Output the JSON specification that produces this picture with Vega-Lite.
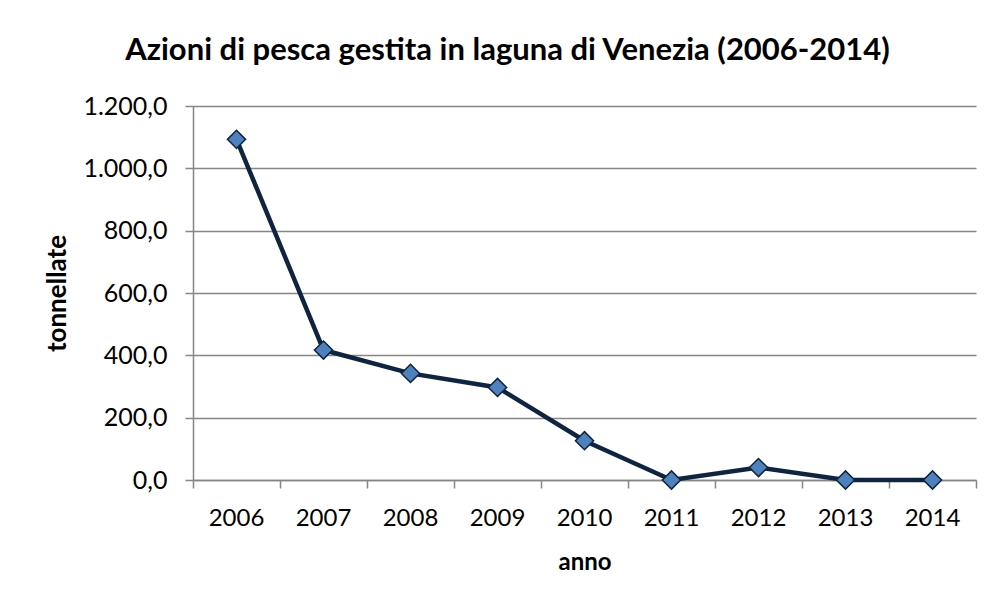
{
  "$schema": "https://vega.github.io/schema/vega-lite/v6.json",
  "width": 783,
  "height": 374,
  "autosize": {"type": "none"},
  "padding": {"left": 193, "top": 106, "right": 19, "bottom": 123},
  "background": "white",
  "config": {
    "locale": {"number": {"decimal": ",", "thousands": ".", "grouping": [3], "currency": ["€", ""]}},
    "view": {"stroke": null},
    "font": "Lato"
  },
  "title": {
    "text": "Azioni di pesca gestita in laguna di Venezia (2006-2014)",
    "font": "Lato",
    "fontSize": 31,
    "fontWeight": "bold",
    "color": "#000000",
    "anchor": "middle",
    "dx": -77,
    "offset": 27
  },
  "data": {
    "values": [
      {"anno": "2006", "tonnellate": 1093},
      {"anno": "2007", "tonnellate": 417},
      {"anno": "2008", "tonnellate": 342},
      {"anno": "2009", "tonnellate": 297},
      {"anno": "2010", "tonnellate": 126},
      {"anno": "2011", "tonnellate": 0},
      {"anno": "2012", "tonnellate": 40},
      {"anno": "2013", "tonnellate": 0},
      {"anno": "2014", "tonnellate": 0}
    ]
  },
  "encoding": {
    "x": {
      "field": "anno",
      "type": "ordinal",
      "scale": {"paddingInner": 0, "paddingOuter": 0, "type": "band"},
      "axis": {
        "title": "anno",
        "titleFont": "Lato",
        "titleFontSize": 24,
        "titleFontWeight": "bold",
        "titleColor": "#000000",
        "titlePadding": 20,
        "labelAngle": 0,
        "labelFont": "Lato",
        "labelFontSize": 24,
        "labelColor": "#000000",
        "labelPadding": 18,
        "bandPosition": 1,
        "tickExtra": true,
        "tickSize": 8,
        "tickColor": "#868686",
        "tickWidth": 1.5,
        "domainColor": "#868686",
        "domainWidth": 1.5,
        "grid": false
      }
    },
    "y": {
      "field": "tonnellate",
      "type": "quantitative",
      "scale": {"domain": [0, 1200], "nice": false},
      "axis": {
        "values": [0, 200, 400, 600, 800, 1000, 1200],
        "format": ",.1f",
        "title": "tonnellate",
        "titleFont": "Lato",
        "titleFontSize": 26,
        "titleFontWeight": "bold",
        "titleColor": "#000000",
        "titlePadding": 12,
        "labelFont": "Lato",
        "labelFontSize": 25,
        "labelColor": "#000000",
        "labelPadding": 18,
        "tickSize": 8,
        "tickColor": "#868686",
        "tickWidth": 1.5,
        "domainColor": "#868686",
        "domainWidth": 1.5,
        "grid": true,
        "gridColor": "#868686",
        "gridWidth": 1.3
      }
    }
  },
  "layer": [
    {"mark": {"type": "line", "color": "#0F243E", "strokeWidth": 4.5}},
    {"mark": {"type": "point", "shape": "diamond", "filled": true, "size": 330, "fill": "#4F81BD", "stroke": "#0F243E", "strokeWidth": 1.5, "opacity": 1}}
  ]
}
